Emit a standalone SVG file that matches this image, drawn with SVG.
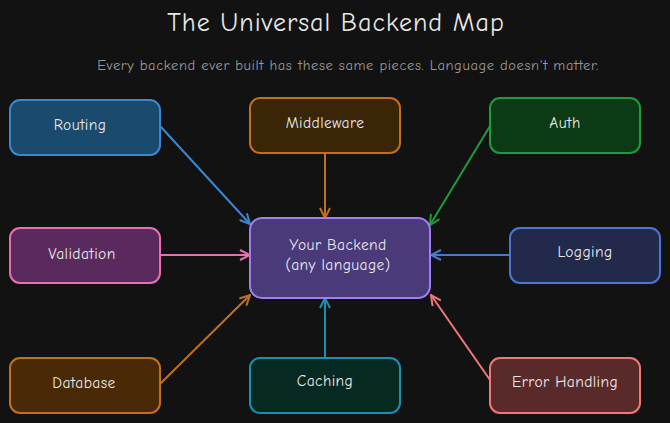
<svg xmlns="http://www.w3.org/2000/svg" width="670" height="423" viewBox="0 0 670 423">
<style>
text{font-family:"Comic Neue","Open Sans","Liberation Sans",sans-serif;fill:#e8e8e8;text-anchor:middle;dominant-baseline:middle}
.n{font-size:15.5px;letter-spacing:0.4px}
.b{stroke-width:2}
.c{fill:none;stroke-width:2;stroke-linecap:round}
</style>
<defs>
<marker id="mb" viewBox="0 0 12 12" refX="11" refY="6" markerWidth="12" markerHeight="12" markerUnits="userSpaceOnUse" orient="auto"><path d="M1,1 L11,6 L1,11" fill="none" stroke="#3a86d0" stroke-width="2"/></marker>
<marker id="mo" viewBox="0 0 12 12" refX="11" refY="6" markerWidth="12" markerHeight="12" markerUnits="userSpaceOnUse" orient="auto"><path d="M1,1 L11,6 L1,11" fill="none" stroke="#c07020" stroke-width="2"/></marker>
<marker id="mg" viewBox="0 0 12 12" refX="11" refY="6" markerWidth="12" markerHeight="12" markerUnits="userSpaceOnUse" orient="auto"><path d="M1,1 L11,6 L1,11" fill="none" stroke="#1f9a3c" stroke-width="2"/></marker>
<marker id="mp" viewBox="0 0 12 12" refX="11" refY="6" markerWidth="12" markerHeight="12" markerUnits="userSpaceOnUse" orient="auto"><path d="M1,1 L11,6 L1,11" fill="none" stroke="#e870b0" stroke-width="2"/></marker>
<marker id="ml" viewBox="0 0 12 12" refX="11" refY="6" markerWidth="12" markerHeight="12" markerUnits="userSpaceOnUse" orient="auto"><path d="M1,1 L11,6 L1,11" fill="none" stroke="#4a78d0" stroke-width="2"/></marker>
<marker id="mt" viewBox="0 0 12 12" refX="11" refY="6" markerWidth="12" markerHeight="12" markerUnits="userSpaceOnUse" orient="auto"><path d="M1,1 L11,6 L1,11" fill="none" stroke="#1a90b0" stroke-width="2"/></marker>
<marker id="mr" viewBox="0 0 12 12" refX="11" refY="6" markerWidth="12" markerHeight="12" markerUnits="userSpaceOnUse" orient="auto"><path d="M1,1 L11,6 L1,11" fill="none" stroke="#f07878" stroke-width="2"/></marker>
</defs>
<rect width="670" height="423" fill="#121212"/>
<text x="336" y="25" font-size="26" letter-spacing="1">The Universal Backend Map</text>
<text x="348" y="66" font-size="14.5" letter-spacing="0.6" style="fill:#9a9a9a">Every backend ever built has these same pieces. Language doesn't matter.</text>
<g id="connectors">
<path class="c" stroke="#3a86d0" d="M161,127 L250,224" marker-end="url(#mb)"/>
<path class="c" stroke="#c07020" d="M325,154 L325,218" marker-end="url(#mo)"/>
<path class="c" stroke="#1f9a3c" d="M490,126 L430,225" marker-end="url(#mg)"/>
<path class="c" stroke="#e870b0" d="M161,255 L250,255" marker-end="url(#mp)"/>
<path class="c" stroke="#4a78d0" d="M510,255 L431,255" marker-end="url(#ml)"/>
<path class="c" stroke="#c07020" d="M161,383 L250,295" marker-end="url(#mo)"/>
<path class="c" stroke="#1a90b0" d="M325,357 L325,298" marker-end="url(#mt)"/>
<path class="c" stroke="#f07878" d="M490,380 L431,295" marker-end="url(#mr)"/>
</g>
<g id="routing"><rect class="b" x="10" y="100" width="150" height="55" rx="10" fill="#1a4a6e" stroke="#3a86d0"/><text class="n" x="80" y="126">Routing</text></g>
<g id="middleware"><rect class="b" x="250" y="98" width="150" height="55" rx="10" fill="#3a2506" stroke="#c07020"/><text class="n" x="325" y="124">Middleware</text></g>
<g id="auth"><rect class="b" x="490" y="98" width="150" height="55" rx="10" fill="#0b3a14" stroke="#1f9a3c"/><text class="n" x="565" y="124">Auth</text></g>
<g id="backend"><rect class="b" x="250" y="218" width="180" height="80" rx="12" fill="#4a3a7a" stroke="#a080f0"/><text class="n" x="338" y="246">Your Backend</text><text class="n" x="338" y="266">(any language)</text></g>
<g id="validation"><rect class="b" x="10" y="228" width="150" height="55" rx="10" fill="#5a2a5e" stroke="#e870b0"/><text class="n" x="82" y="255">Validation</text></g>
<g id="logging"><rect class="b" x="510" y="228" width="150" height="55" rx="10" fill="#23294a" stroke="#4a78d0"/><text class="n" x="585" y="253">Logging</text></g>
<g id="database"><rect class="b" x="10" y="358" width="150" height="55" rx="10" fill="#4a2a06" stroke="#c07020"/><text class="n" x="84" y="384">Database</text></g>
<g id="caching"><rect class="b" x="250" y="358" width="150" height="55" rx="10" fill="#062a22" stroke="#1a90b0"/><text class="n" x="325" y="382">Caching</text></g>
<g id="error"><rect class="b" x="490" y="358" width="150" height="55" rx="10" fill="#5a2a2a" stroke="#f07878"/><text class="n" x="565" y="383">Error Handling</text></g>
</svg>
